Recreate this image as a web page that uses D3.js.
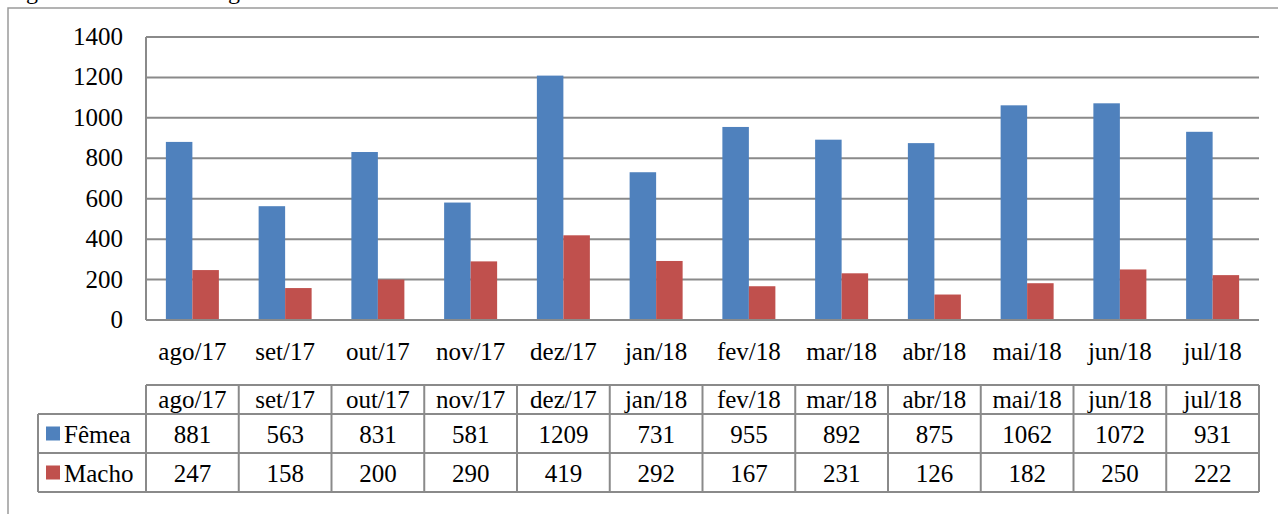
<!DOCTYPE html>
<html>
<head>
<meta charset="utf-8">
<script src="https://cdn.jsdelivr.net/npm/d3@7"></script>
<style>
  body { margin: 0; background: #fff; overflow: hidden; }
  text { font-family: "Liberation Serif", "Times New Roman", serif; fill: #000; }
</style>
</head>
<body>
<svg id="chart" width="1278" height="514"></svg>
<script>
var months = ["ago/17", "set/17", "out/17", "nov/17", "dez/17", "jan/18",
              "fev/18", "mar/18", "abr/18", "mai/18", "jun/18", "jul/18"];
var femea = [881, 563, 831, 581, 1209, 731, 955, 892, 875, 1062, 1072, 931];
var macho = [247, 158, 200, 290, 419, 292, 167, 231, 126, 182, 250, 222];
var seriesNames = ["Fêmea", "Macho"];
var seriesColors = ["#4F81BD", "#C0504D"];
var yTicks = [0, 200, 400, 600, 800, 1000, 1200, 1400];

var svg = d3.select("#chart");
var gridColor = "#8a8a8a";
var fontSize = "25px";

// caption cut at the top of the page (only descenders show)
svg.append("text")
    .attr("x", 6).attr("y", -1)
    .style("font-size", "24px")
    .text("Figura 2 – Abate de origem bovina no Oeste do Estado do Paraná.");

// outer frame
svg.append("path")
    .attr("d", "M8,520 L8,8 L1290,8")
    .attr("fill", "none")
    .attr("stroke", "#9a9a9a")
    .attr("stroke-width", 1.5);

var plotLeft = 146, plotRight = 1259, plotTop = 37, plotBottom = 320;

var x = d3.scaleBand().domain(months).range([plotLeft, plotRight]).paddingInner(0).paddingOuter(0);
var y = d3.scaleLinear().domain([0, 1400]).range([plotBottom, plotTop]);

// gridlines
svg.append("g").selectAll("line").data(yTicks.filter(function (d) { return d > 0; }))
    .enter().append("line")
    .attr("x1", plotLeft).attr("x2", plotRight)
    .attr("y1", function (d) { return y(d); })
    .attr("y2", function (d) { return y(d); })
    .attr("stroke", gridColor).attr("stroke-width", 2);

// y tick labels
svg.append("g").selectAll("text").data(yTicks)
    .enter().append("text")
    .attr("x", 123)
    .attr("y", function (d) { return y(d) + 8; })
    .attr("text-anchor", "end")
    .style("font-size", fontSize)
    .text(function (d) { return d; });

// bars (gap width 150% of a bar)
var barW = x.bandwidth() / 3.5;
var sets = [femea, macho];
sets.forEach(function (vals, s) {
    svg.append("g").selectAll("rect").data(vals)
        .enter().append("rect")
        .attr("x", function (d, i) { return x(months[i]) + barW * 0.75 + s * barW; })
        .attr("y", function (d) { return y(d); })
        .attr("width", barW)
        .attr("height", function (d) { return plotBottom - y(d); })
        .attr("fill", seriesColors[s]);
});

// axis lines
svg.append("line")
    .attr("x1", plotLeft).attr("x2", plotLeft).attr("y1", plotTop).attr("y2", plotBottom)
    .attr("stroke", gridColor).attr("stroke-width", 2);
svg.append("line")
    .attr("x1", plotLeft).attr("x2", plotRight).attr("y1", plotBottom).attr("y2", plotBottom)
    .attr("stroke", gridColor).attr("stroke-width", 2);

// x labels
svg.append("g").selectAll("text").data(months)
    .enter().append("text")
    .attr("x", function (d) { return x(d) + x.bandwidth() / 2; })
    .attr("y", 360)
    .attr("text-anchor", "middle")
    .style("font-size", fontSize)
    .text(function (d) { return d; });

// data table
var rowTops = [385, 414, 453, 492];
var tableLeft = 38;
var tg = svg.append("g");
var border = "#8a8a8a";

tg.append("line").attr("x1", plotLeft).attr("x2", plotRight).attr("y1", rowTops[0]).attr("y2", rowTops[0])
    .attr("stroke", border).attr("stroke-width", 2);
[1, 2, 3].forEach(function (r) {
    tg.append("line").attr("x1", tableLeft).attr("x2", plotRight)
        .attr("y1", rowTops[r]).attr("y2", rowTops[r])
        .attr("stroke", border).attr("stroke-width", 2);
});
tg.append("line").attr("x1", tableLeft).attr("x2", tableLeft)
    .attr("y1", rowTops[1]).attr("y2", rowTops[3])
    .attr("stroke", border).attr("stroke-width", 2);
months.concat(["end"]).forEach(function (m, i) {
    var xx = i < months.length ? x(m) : plotRight;
    tg.append("line").attr("x1", xx).attr("x2", xx)
        .attr("y1", rowTops[0]).attr("y2", rowTops[3])
        .attr("stroke", border).attr("stroke-width", 2);
});

// header row
tg.selectAll(".hdr").data(months).enter().append("text")
    .attr("class", "hdr")
    .attr("x", function (d) { return x(d) + x.bandwidth() / 2; })
    .attr("y", rowTops[0] + 23)
    .attr("text-anchor", "middle")
    .style("font-size", fontSize)
    .text(function (d) { return d; });

// series rows
sets.forEach(function (vals, s) {
    var rowMid = (rowTops[s + 1] + rowTops[s + 2]) / 2;
    tg.append("rect")
        .attr("x", 46).attr("y", rowMid - 7)
        .attr("width", 14).attr("height", 14)
        .attr("fill", seriesColors[s]);
    tg.append("text")
        .attr("x", 64).attr("y", rowMid + 9)
        .style("font-size", fontSize)
        .text(seriesNames[s]);
    tg.selectAll(".v" + s).data(vals).enter().append("text")
        .attr("class", "v" + s)
        .attr("x", function (d, i) { return x(months[i]) + x.bandwidth() / 2; })
        .attr("y", rowMid + 9)
        .attr("text-anchor", "middle")
        .style("font-size", fontSize)
        .text(function (d) { return d; });
});
</script>
</body>
</html>
